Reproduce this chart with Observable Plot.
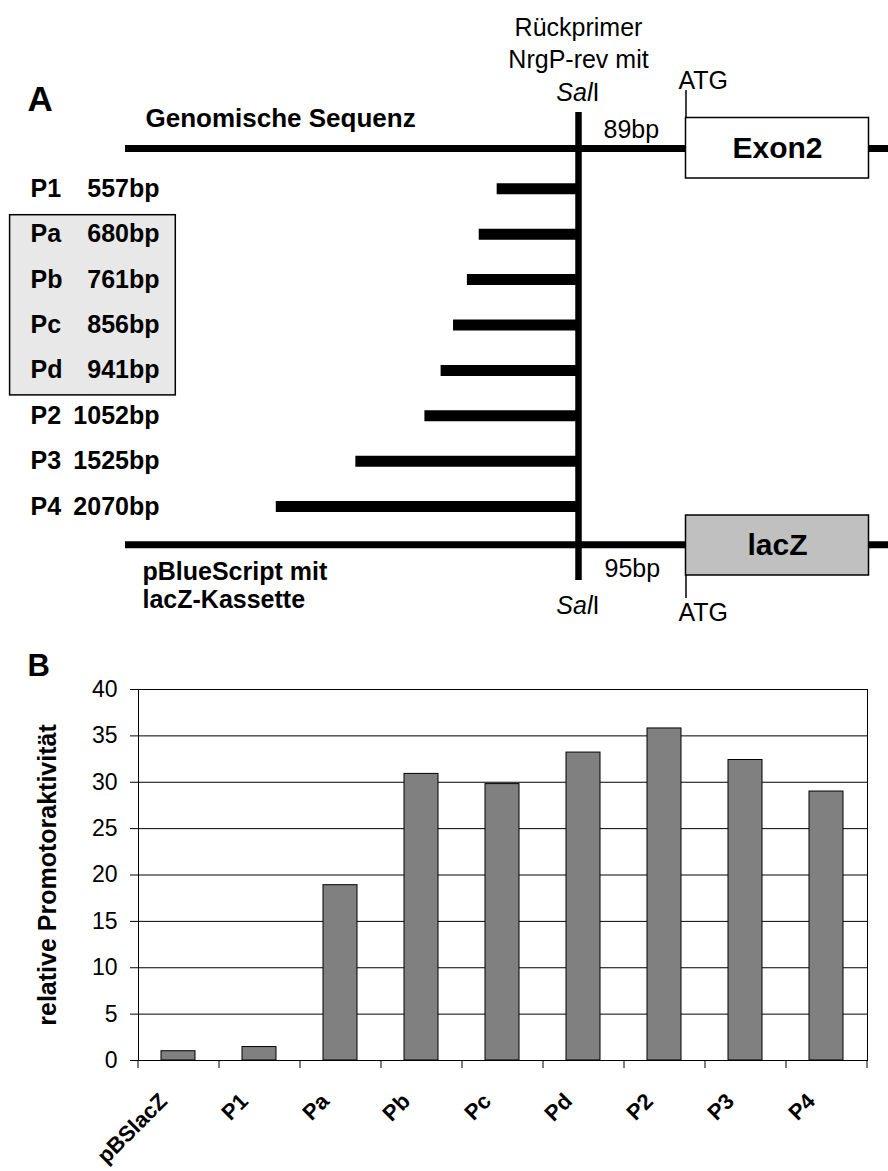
<!DOCTYPE html>
<html>
<head>
<meta charset="utf-8">
<script src="https://cdn.jsdelivr.net/npm/d3@7"></script>
<script src="https://cdn.jsdelivr.net/npm/@observablehq/plot@0.6"></script>
<style>
  html, body { margin: 0; padding: 0; background: #fff; }
  #chart svg { display: block; }
</style>
</head>
<body>
<div id="chart"></div>
<script>
// ---------------- data ----------------
const fragmentNames = ["P1", "Pa", "Pb", "Pc", "Pd", "P2", "P3", "P4"];
const fragmentBp = [557, 680, 761, 856, 941, 1052, 1525, 2070];
const boxedFragments = ["Pa", "Pb", "Pc", "Pd"];
const constructNames = ["pBSlacZ", "P1", "Pa", "Pb", "Pc", "Pd", "P2", "P3", "P4"];
const promoterActivity = [1.0, 1.45, 18.9, 30.9, 29.8, 33.2, 35.8, 32.4, 29.0];
const activityTicks = [0, 5, 10, 15, 20, 25, 30, 35, 40];
const spacerLabels = ["89bp", "95bp"];
const primerLines = ["Rückprimer", "NrgP-rev mit"];
const vectorLines = ["pBlueScript mit", "lacZ-Kassette"];
const genomicLabel = "Genomische Sequenz";
const yAxisLabel = "relative Promotoraktivität";

// ---------------- layout ----------------
const W = 888, HA = 640, HB = 531;
const FONT = "'Liberation Sans', Arial, Helvetica, sans-serif";
const bpPx = 0.146;          // schematic: pixels per bp upstream of SalI
const salPx = 578;           // SalI site position in panel A
const u = px => (px - salPx) / bpPx;        // panel A x units (bp relative to SalI)
const rowPx0 = 188.3, rowStep = 45.4;
const r = px => (px - rowPx0) / rowStep;     // panel A y units (fragment rows)

const REG = {fontFamily: FONT, fontSize: 25, fill: "black"};
const BOLD = {fontFamily: FONT, fontSize: 25, fontWeight: "bold", fill: "black"};
const txt = (s, px, py, opts = {}) =>
  Plot.text([s], {x: u(px), y: r(py), text: d => d, textAnchor: "start", lineAnchor: "bottom", ...REG, ...opts});

// SalI = italic "Sal" + upright "I", centred on the site
const salLabel = (py) => [
  Plot.text(["Sal"], {x: 0, y: r(py), text: d => d, textAnchor: "end", lineAnchor: "bottom", dx: 14, ...REG, fontStyle: "italic"}),
  Plot.text(["I"], {x: 0, y: r(py), text: d => d, textAnchor: "start", lineAnchor: "bottom", dx: 14, ...REG})
];

const panelA = Plot.plot({
  width: W, height: HA, margin: 0,
  x: {domain: [u(0), u(W)], range: [0, W], axis: null},
  y: {domain: [r(0), r(HA)], range: [0, HA], axis: null},
  style: {fontFamily: FONT, background: "white", color: "black", overflow: "visible"},
  marks: [
    // grey box behind the Pa–Pd labels
    Plot.rect([boxedFragments], {
      x1: u(9.6), x2: u(175.3),
      y1: r(rowPx0 + rowStep * fragmentNames.indexOf(boxedFragments[0]) - 19),
      y2: r(rowPx0 + rowStep * fragmentNames.indexOf(boxedFragments[3]) + 25),
      fill: "#e8e8e8", stroke: "black", strokeWidth: 1.5
    }),
    // genomic sequence and vector backbone
    Plot.ruleY([r(148)], {x1: u(125), x2: u(W), strokeWidth: 7}),
    Plot.ruleY([r(544.3)], {x1: u(125), x2: u(W), strokeWidth: 7}),
    // SalI / reverse primer
    Plot.ruleX([0], {y1: r(112), y2: r(580), strokeWidth: 6.5}),
    // promoter fragments
    Plot.ruleY(fragmentNames, {y: (d, i) => i, x1: (d, i) => -fragmentBp[i], x2: 0, strokeWidth: 11}),
    // Exon2 and lacZ boxes
    Plot.rect(["Exon2"], {x1: u(685.5), x2: u(868.5), y1: r(117.5), y2: r(178), fill: "white", stroke: "black", strokeWidth: 1.5}),
    Plot.rect(["lacZ"], {x1: u(685.5), x2: u(868.5), y1: r(515), y2: r(575), fill: "#c0c0c0", stroke: "black", strokeWidth: 1.5}),
    // ATG ticks
    Plot.ruleX([u(685.5)], {y1: r(90), y2: r(117.5), strokeWidth: 1.5}),
    Plot.ruleX([u(685.5)], {y1: r(575), y2: r(598), strokeWidth: 1.5}),
    // fragment labels
    Plot.text(fragmentNames, {y: (d, i) => i, text: d => d, frameAnchor: "left", dx: 30, textAnchor: "start", ...BOLD}),
    Plot.text(fragmentNames, {y: (d, i) => i, text: (d, i) => `${fragmentBp[i]}bp`, frameAnchor: "left", dx: 159, textAnchor: "end", ...BOLD}),
    // texts
    txt("A", 27, 110, {fontWeight: "bold", fontSize: 35}),
    txt(genomicLabel, 145, 126, {fontWeight: "bold", fontSize: 26}),
    txt(primerLines[0], salPx, 35, {textAnchor: "middle"}),
    txt(primerLines[1], salPx, 67, {textAnchor: "middle"}),
    ...salLabel(100),
    txt("ATG", 678, 88),
    txt(spacerLabels[0], 603, 137),
    txt("Exon2", 777, 147.5, {textAnchor: "middle", lineAnchor: "middle", fontWeight: "bold", fontSize: 30}),
    txt("lacZ", 777, 545, {textAnchor: "middle", lineAnchor: "middle", fontWeight: "bold", fontSize: 30}),
    txt(vectorLines[0], 142, 579, {fontWeight: "bold", fontSize: 25}),
    txt(vectorLines[1], 142, 607, {fontWeight: "bold", fontSize: 25}),
    txt(spacerLabels[1], 604, 576),
    ...salLabel(613),
    txt("ATG", 678, 620)
  ]
});

// ---------------- panel B: bar chart ----------------
const mB = {top: 49, right: 21, bottom: 111, left: 138};
const step = (W - mB.left - mB.right) / constructNames.length;

const panelB = Plot.plot({
  width: W, height: HB,
  marginTop: mB.top, marginRight: mB.right, marginBottom: mB.bottom, marginLeft: mB.left,
  x: {domain: constructNames, paddingInner: 0.58, paddingOuter: 0.29, axis: null},
  y: {domain: [0, 40], ticks: activityTicks, tickSize: 8, tickPadding: 13, label: null},
  style: {fontFamily: FONT, fontSize: "23px", background: "white", color: "black", overflow: "visible"},
  marks: [
    Plot.ruleY(activityTicks.filter(v => v > 0), {stroke: "black", strokeWidth: 1}),
    Plot.barY(constructNames, {x: d => d, y: (d, i) => promoterActivity[i], fill: "#808080", stroke: "black", strokeWidth: 1}),
    Plot.frame({stroke: "black", strokeWidth: 1}),
    // category boundary ticks below the axis
    Plot.ruleX(constructNames, {x: d => d, y1: 0, y2: 0, insetBottom: -8, dx: -step / 2, strokeWidth: 1}),
    Plot.ruleX([constructNames[constructNames.length - 1]], {x: d => d, y1: 0, y2: 0, insetBottom: -8, dx: step / 2, strokeWidth: 1}),
    // rotated category labels
    Plot.text(constructNames, {x: d => d, text: d => d, frameAnchor: "bottom", dy: 42, dx: -10,
      rotate: -45, textAnchor: "end", lineAnchor: "bottom", fontFamily: FONT, fontSize: 22, fontWeight: "bold", fill: "black"}),
    // axis title
    Plot.text([yAxisLabel], {frameAnchor: "left", text: d => d, rotate: -90, dx: 55 - mB.left, textAnchor: "middle",
      lineAnchor: "bottom", fontFamily: FONT, fontSize: 25, fontWeight: "bold", fill: "black"}),
    // panel letter
    Plot.text(["B"], {frameAnchor: "top-left", text: d => d, dx: 27 - mB.left, dy: 35 - mB.top, textAnchor: "start",
      lineAnchor: "bottom", fontFamily: FONT, fontSize: 31, fontWeight: "bold", fill: "black"})
  ]
});

const chart = document.getElementById("chart");
chart.append(panelA, panelB);
</script>
</body>
</html>
